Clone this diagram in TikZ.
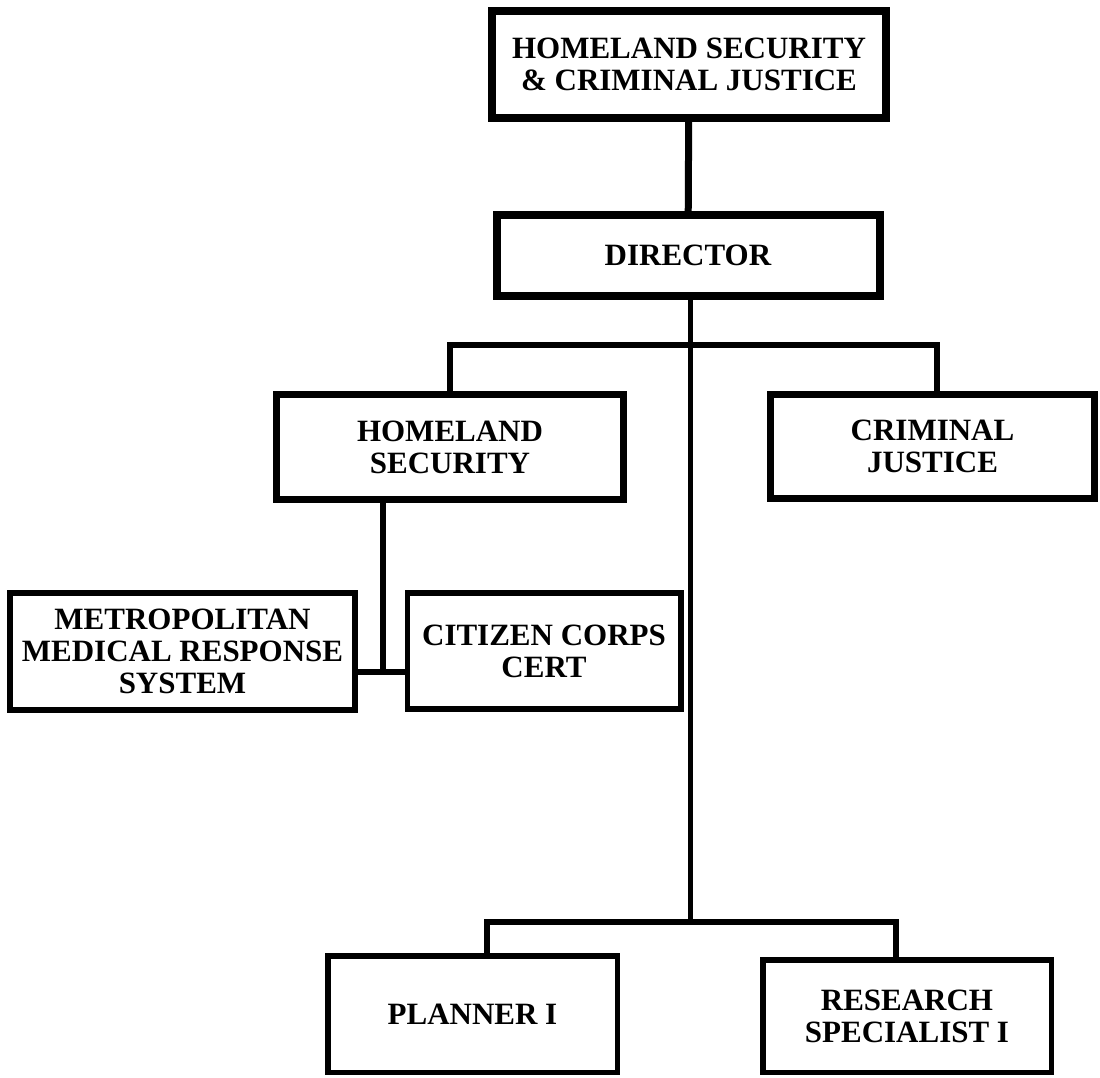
\documentclass[tikz,border=0pt]{standalone}
\usepackage{fontspec}
\setmainfont{Liberation Serif}
\usetikzlibrary{positioning, calc}

\begin{document}
\begin{tikzpicture}[x=0.5pt, y=-0.5pt,
    box/.style={rectangle, draw, line width=2.75pt, align=center, inner sep=0pt,
        font=\bfseries\fontsize{15.5}{16}\selectfont},
    bigbox/.style={box, line width=4pt},
    midbox/.style={box, line width=3.5pt},
    link/.style={line width=3pt}]
    \useasboundingbox (0,0) rectangle (1100,1078);
    % Define blocks
    \node (hscj) [bigbox, minimum width=197pt, minimum height=53.5pt] at (689,64.5) {HOMELAND SECURITY\\\& CRIMINAL JUSTICE};
    \node (dir) [bigbox, minimum width=191.5pt, minimum height=40.5pt] at (688,255.5) {DIRECTOR};
    \node (hs) [midbox, minimum width=173.5pt, minimum height=52.5pt] at (450,447) {HOMELAND\\SECURITY};
    \node (cj) [midbox, minimum width=162pt, minimum height=52pt] at (932.5,446.5) {CRIMINAL\\JUSTICE};
    \node (mmrs) [box, minimum width=172.5pt, minimum height=58.5pt] at (182.5,651.5) {METROPOLITAN\\MEDICAL RESPONSE\\SYSTEM};
    \node (cert) [box, minimum width=136.75pt, minimum height=58pt] at (544,651) {CITIZEN CORPS\\CERT};
    \node (plan) [box, minimum width=144.75pt, minimum height=58.25pt] at (472.5,1014) {PLANNER I};
    \node (res) [box, minimum width=144.25pt, minimum height=56.25pt] at (907,1016) {RESEARCH\\SPECIALIST I};

    % Junctions
    \coordinate (jdir) at (690.5,345);
    \coordinate (jstaff) at (690.5,922);
    \coordinate (jhs) at (383,672);

    % Draw lines
    \draw[link, line width=3.5pt] (hscj) -- (dir);
    \draw[link, line width=2.75pt] (dir.south -| jstaff) -- (jstaff);
    \draw[link] (hs.north) |- (jdir) -| ($(cj.north)+(4.5,0)$);
    \draw[link] (hs.south -| jhs) -- (jhs);
    \draw[link] (mmrs.east |- jhs) -- (cert.west |- jhs);
    \draw[link] ($(plan.north)+(14,0)$) |- (jstaff) -| ($(res.north)+(-11,0)$);
\end{tikzpicture}
\end{document}
